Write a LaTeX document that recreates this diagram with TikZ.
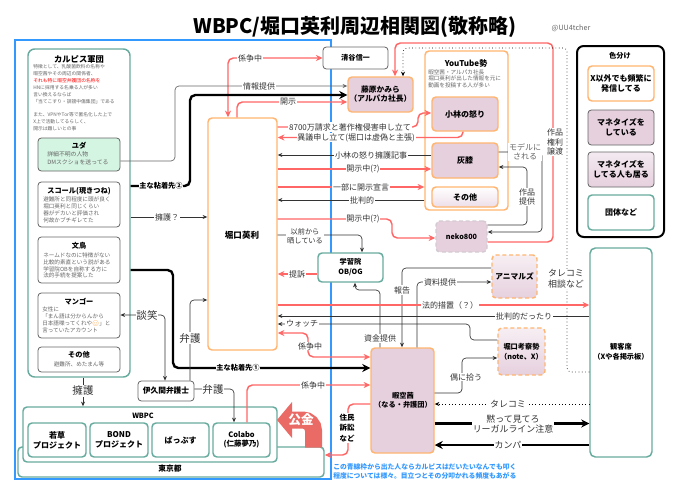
\documentclass[tikz,border=0pt]{standalone}
\usepackage{fontspec}
\setmainfont{Noto Sans CJK JP}
\newfontfamily\emj{Noto Emoji}
\usetikzlibrary{arrows.meta,fit,calc}
\definecolor{tealc}{HTML}{67AB9F}
\definecolor{orgc}{HTML}{FFB570}
\definecolor{pinkc}{HTML}{E6D0DE}
\definecolor{redc}{HTML}{FF6666}
\definecolor{bluec}{HTML}{3399FF}
\definecolor{grayc}{HTML}{666666}
\definecolor{txtc}{HTML}{333333}
\definecolor{mintc}{HTML}{D5F5E3}
\definecolor{kokin}{HTML}{EA6B66}
\newcommand\fsA{\fontsize{3.6pt}{5.3pt}\selectfont}
\newcommand\fsB{\fontsize{4.2pt}{5.1pt}\selectfont}
\newcommand\fsC{\fontsize{5.4pt}{6.5pt}\selectfont}
\newcommand\fsD{\fontsize{6pt}{7pt}\selectfont}
\newcommand\fsE{\fontsize{6.7pt}{8pt}\selectfont}
\newcommand\fsF{\fontsize{7.9pt}{9pt}\selectfont}
\newcommand\mkbox[6]{\node[#6,fit={(#2,#3) (#4,#5)},inner sep=0pt] (#1) {};}
\tikzset{
  tbox/.style={draw=tealc,line width=1.1pt,rounded corners=3pt,fill=white},
  gbox/.style={draw=grayc,line width=0.6pt,rounded corners=2.5pt,fill=white},
  obox/.style={draw=orgc,line width=1.1pt,rounded corners=3pt,fill=white},
  pbox/.style={draw=orgc,line width=1.1pt,rounded corners=3pt,fill=pinkc},
  dbox/.style={draw=orgc,line width=1.1pt,dash pattern=on 3pt off 2pt,rounded corners=3pt,top color=pinkc!35,bottom color=pinkc},
  ttl/.style={font=\fsC\bfseries,inner sep=0pt,align=center},
  sm/.style={font=\fsB,text=grayc,inner sep=0pt,align=left},
  lbl/.style={font=\fsD,text=txtc,fill=white,inner sep=0.6pt},
  redln/.style={draw=redc,line width=1.1pt,rounded corners=4pt,-{Stealth[length=5pt,width=4.5pt]}},
  redboth/.style={draw=redc,line width=1.1pt,rounded corners=4pt,{Stealth[length=5pt,width=4.5pt]}-{Stealth[length=5pt,width=4.5pt]}},
  gln/.style={draw=txtc,line width=0.5pt,rounded corners=3pt,-{Stealth[length=3.5pt,width=3pt]}},
  glnboth/.style={draw=txtc,line width=0.5pt,rounded corners=3pt,{Stealth[length=3.5pt,width=3pt]}-{Stealth[length=3.5pt,width=3pt]}},
  blk/.style={draw=black,line width=1.8pt,rounded corners=4pt,-{Stealth[length=6pt,width=6pt]}},
}
\begin{document}
\begin{tikzpicture}[x=0.75pt,y=-0.75pt]
\useasboundingbox (0,0) rectangle (680,496);
\fill[white] (0,0) rectangle (680,496);
% title
\node[font=\fontsize{15pt}{17pt}\selectfont\bfseries,inner sep=0pt] (title) at (355,27) {WBPC/堀口英利周辺相関図(敬称略)};
\node[font=\fsC,text=grayc,inner sep=0pt] (handle) at (571,28) {@UU4tcher};
% blue frame
\mkbox{frame}{15}{40}{331}{479}{draw=bluec,line width=1.2pt}
% Calpis group
\mkbox{karu}{28}{49}{130}{377}{tbox,rounded corners=5pt}
\node[ttl,font=\fontsize{6.2pt}{7pt}\selectfont\bfseries] at (79,59) {カルピス軍団};
\node[sm,font=\fsA,anchor=west] at (33,84.2) {特徴として、乳酸菌飲料の名称や\\暇空茜やその周辺の関係者、\\\textcolor{red}{それも特に暇空弁護団の名称を}\\HNに採用する名乗る人が多い\\言い換えるならば\\「当てこすり・誹謗中傷集団」である};
\node[sm,font=\fsA,anchor=west] at (33,121.4) {また、VPNやTor等で匿名化した上で\\X上で活動してるらしく、\\開示は難しいとの事};
\mkbox{yuda}{38}{138}{120}{171}{gbox,fill=mintc}
\node[ttl] at (79,146) {ユダ};
\node[sm,font=\fontsize{4.4pt}{5.8pt}\selectfont,anchor=west] at (47,158.3) {詳細不明の人物\\DMスクショを送ってる};
\mkbox{squall}{38}{182}{120}{227}{gbox}
\node[ttl] at (79,191) {スコール(現きつね)};
\node[sm,anchor=west] at (43,210) {避難所と同程度に頭が良く\\堀口英利と同じくらい\\器がデカいと評価され\\何故かブチギレてた};
\mkbox{bunch}{38}{237}{120}{283}{gbox}
\node[ttl] at (79,245.5) {文鳥};
\node[sm,anchor=west] at (43,265.5) {ネームドなのに特徴がない\\比較的素直という説がある\\学習院OBを自称する方に\\法的手続を提案した};
\mkbox{mango}{38}{293}{120}{338}{gbox}
\node[ttl] at (79,302) {マンゴー};
\node[sm,anchor=west] at (42,320) {女性に\\「まん語は分からんから\\日本語喋ってくれや{\emj\textcolor{orange}{😊}}」と\\言っていたアカウント};
\mkbox{sono1}{38}{347}{120}{372}{gbox}
\node[ttl] at (79,355) {その他};
\node[sm] at (79,364.5) {避難所、めたまん等};
% right side boxes
\mkbox{seiya}{323}{47}{388}{69}{gbox}
\node[ttl,font=\fsC\bfseries] at (seiya) {清谷信一};
\mkbox{fuji}{348}{77}{413}{112}{pbox}
\node[ttl,font=\fontsize{5.8pt}{6.8pt}\selectfont\bfseries] at (fuji) {藤原かみら\\（アルパカ社長）};
\mkbox{yt}{425}{51}{508}{210}{obox}
\node[ttl,font=\fsD\bfseries] at (466,63) {YouTube勢};
\node[sm,font=\fontsize{4.2pt}{4.9pt}\selectfont,anchor=west] at (428,78.5) {暇空茜・アルパカ社長\\堀口英利が出した情報を元に\\動画を投稿する人が多い};
\mkbox{koba}{432}{97}{498}{131}{pbox}
\node[ttl,font=\fsD\bfseries] at (koba) {小林の怒り};
\mkbox{hai}{432}{143}{498}{178}{pbox}
\node[ttl,font=\fsD\bfseries] at (hai) {灰膝};
\mkbox{sono2}{432}{187}{498}{207}{obox,top color=white,bottom color=pinkc!70}
\node[ttl,font=\fsD\bfseries] at (sono2) {その他};
\mkbox{neko}{436}{221}{487}{252}{dbox,draw=pinkc!80!black!60,top color=pinkc,bottom color=pinkc}
\node[ttl,font=\fsC\bfseries] at (neko) {neko800};
\mkbox{hori}{208}{118}{277}{350}{obox}
\node[ttl,font=\fontsize{6.4pt}{7pt}\selectfont\bfseries] at (242,235) {堀口英利};
\mkbox{gaku}{318}{253}{383}{282}{tbox}
\node[ttl,font=\fontsize{5.4pt}{7.5pt}\selectfont\bfseries] at (gaku) {学習院\\OB/OG};
\mkbox{ani}{492}{255}{537}{298}{dbox}
\node[ttl,font=\fontsize{5.8pt}{7pt}\selectfont\bfseries] at (ani) {アニマルズ};
\mkbox{kous}{498}{328}{545}{375}{dbox}
\node[ttl,font=\fontsize{5.4pt}{7.5pt}\selectfont\bfseries] at (kous) {堀口考察勢\\（note、X）};
\mkbox{kank}{590}{248}{652}{457}{tbox,rounded corners=4pt}
\node[ttl,font=\fontsize{5.4pt}{7.5pt}\selectfont\bfseries] at (621,352) {観客席\\（Xや各掲示板）};
\mkbox{hima}{371}{348}{434}{453}{pbox}
\node[ttl,font=\fontsize{5.4pt}{7pt}\selectfont\bfseries] at (403,400) {暇空茜\\（なる・弁護団）};
\mkbox{ikuma}{138}{381}{194}{401}{gbox}
\node[ttl,font=\fontsize{5.8pt}{7pt}\selectfont\bfseries] at (ikuma) {伊久間弁護士};
% Tokyo / WBPC
\mkbox{tokyo}{18}{447}{324}{477}{tbox}
\node[ttl,font=\fontsize{5.8pt}{7pt}\selectfont\bfseries] at (170,469) {東京都};
\mkbox{wbpc}{23}{407}{277}{462}{tbox}
\node[ttl,font=\fontsize{5.4pt}{7pt}\selectfont\bfseries] at (143,415.5) {WBPC};
\mkbox{waka}{28}{423}{86}{457}{tbox}
\node[ttl,font=\fontsize{6pt}{7.5pt}\selectfont\bfseries] at (waka) {若草\\プロジェクト};
\mkbox{bond}{90}{423}{148}{457}{tbox}
\node[ttl,font=\fontsize{6pt}{7.5pt}\selectfont\bfseries] at (bond) {BOND\\プロジェクト};
\mkbox{pap}{152}{423}{209}{457}{tbox}
\node[ttl,font=\fontsize{6pt}{7.5pt}\selectfont\bfseries] at (pap) {ぱっぷす};
\mkbox{colabo}{213}{423}{270}{457}{tbox}
\node[ttl,font=\fontsize{5.6pt}{7pt}\selectfont\bfseries] at (colabo) {Colabo\\(仁藤夢乃)};
% legend
\mkbox{legend}{577}{46}{664}{237}{draw=black,line width=1.5pt,rounded corners=5pt,fill=white}
\node[ttl,font=\fsC\bfseries] at (620,56) {色分け};
\mkbox{lgA}{588}{66}{654}{101}{obox}
\node[ttl,font=\fontsize{6pt}{7.5pt}\selectfont\bfseries] at (lgA) {X以外でも頻繁に\\発信してる};
\mkbox{lgB}{588}{110}{654}{145}{gbox,fill=pinkc}
\node[ttl,font=\fontsize{6pt}{7.5pt}\selectfont\bfseries] at (lgB) {マネタイズを\\している};
\mkbox{lgC}{588}{152}{654}{187}{gbox,top color=pinkc!45,bottom color=pinkc}
\node[ttl,font=\fontsize{6pt}{7.5pt}\selectfont\bfseries] at (lgC) {マネタイズを\\してる人も居る};
\mkbox{lgD}{588}{195}{654}{230}{tbox}
\node[ttl,font=\fontsize{6pt}{7.5pt}\selectfont\bfseries] at (lgD) {団体など};
% Kokin arrow
\draw[kokin,line width=12.75pt,rounded corners=8pt] (313.5,447.5) -- (313.5,420) -- (290,420);
\fill[kokin] (292,402) -- (277,420) -- (292,438) -- cycle;
\node[font=\fontsize{9.5pt}{10pt}\selectfont\bfseries,text=white,inner sep=0pt] (kokintxt) at (301,420) {公金};
% connectors
\draw[redboth] (hori.north -| 228,0) -- (228,58) -- (seiya.west |- 0,58);
\node[lbl] at (250,58) {係争中};
\draw[gln,draw=grayc] (yuda.east |- 0,161) -- (175,161) -- (175,86) -- (fuji.west |- 0,86);
\node[lbl] at (259,86) {情報提供};
\draw[blk] (karu.east |- 0,186) -- (190,186) -- (190,95) -- (fuji.west |- 0,95);
\node[lbl,font=\fsC\bfseries,text=black] at (161,186) {主な粘着先②};
\draw[redln] (hori.north -| 237,0) -- (237,102) -- (fuji.west |- 0,102);
\node[lbl] at (288,102) {開示};
\draw[redln] (neko.east |- 0,242) -- (553,242) -- (553,43) -- (395,43) -- (fuji.north -| 395,0);
\node[lbl,align=center,font=\fontsize{6pt}{7.1pt}\selectfont] at (555,142) {作品\\権利\\譲渡};
\draw[gln,dotted,draw=black] (kank.west |- 0,372) -- (567,372) -- (567,48) -- (403,48) -- (fuji.north -| 403,0);
\node[lbl,font=\fsE,align=center] at (566,279) {タレコミ\\相談など};
\draw[redln] (hori.east |- 0,127) -- (418,127) -- (418,113) -- (koba.west |- 0,113);
\node[lbl] at (350,127) {8700万請求と著作権侵害申し立て};
\draw[redln] (koba.south -| 463,0) -- (463,137.5) -- (hori.east |- 0,137.5);
\node[lbl] at (356,137.5) {異議申し立て(堀口は虚偽と主張)};
\draw[gln] (hai.west |- 0,155) -- (hori.east |- 0,155);
\node[lbl] at (371,155) {小林の怒り擁護記事};
\draw[redln] (hori.east |- 0,169) -- (hai.west |- 0,169);
\node[lbl] at (363,169) {開示中(?)};
\draw[redln] (hori.east |- 0,187) -- (yt.west |- 0,187);
\node[lbl] at (361,187) {一部に開示宣言};
\draw[gln] (yt.west |- 0,200) -- (hori.east |- 0,200);
\node[lbl] at (362,200) {批判的};
\draw[redln] (hori.east |- 0,219) -- (392,219) -- (392,238) -- (neko.west |- 0,238);
\node[lbl] at (363,219) {開示中(?)};
\draw[gln] (hori.east |- 0,235) -- (362,235) -- (gaku.north -| 362,0);
\node[lbl,align=center,font=\fsC] at (305,236) {以前から\\晒している};
\draw[redln] (gaku.west |- 0,274) -- (hori.east |- 0,274);
\node[lbl] at (297,274) {提訴};
\draw[gln] (hima.north -| 380,0) -- (380,290) -- (355,290) -- (gaku.south -| 355,0);
\node[lbl] at (380,338) {資金提供};
\draw[gln] (ani.west |- 0,268) -- (402,268) -- (hima.north -| 402,0);
\node[lbl] at (402,290) {報告};
\draw[gln] (hima.north -| 417,0) -- (417,282) -- (ani.west |- 0,282);
\node[lbl] at (440,282) {資料提供};
\draw[redln] (hori.east |- 0,305) -- (kank.west |- 0,305);
\node[lbl] at (450,305) {法的措置（？）};
\draw[gln] (kank.west |- 0,316) -- (hori.east |- 0,316);
\node[lbl] at (524,316) {批判的だったり};
\draw[gln] (kous.west |- 0,340) -- (470,340) -- (470,324) -- (hori.east |- 0,324);
\node[lbl] at (302,324) {ウォッチ};
\draw[redboth] (hori.east |- 0,333) -- (308,333) -- (308,357) -- (hima.west |- 0,357);
\node[lbl] at (310,346) {係争中};
\draw[blk] (karu.east |- 0,270) -- (173,270) -- (173,368) -- (hima.west |- 0,368);
\node[lbl,font=\fsC\bfseries,text=black] at (238,368) {主な粘着先①};
\draw[gln] (karu.east |- 0,217) -- (hori.west |- 0,217);
\node[lbl] at (167,217) {擁護？};
\draw[glnboth] (mango.east |- 0,315) -- (165,315) -- (ikuma.north -| 165,0);
\node[lbl,font=\fsF] at (147,315) {談笑};
\draw[gln] (ikuma.north -| 190,0) -- (190,300) -- (hori.west |- 0,300);
\node[lbl,font=\fsF] at (190,338) {弁護};
\draw[gln] (ikuma.east |- 0,389) -- (234,389) -- (colabo.north -| 234,0);
\node[lbl,font=\fsF] at (213,389) {弁護};
\draw[gln] (karu.south -| 83,0) -- (wbpc.north -| 83,0);
\node[lbl,font=\fsF] at (83,391) {擁護};
\draw[redln] (colabo.north -| 247,0) -- (247,385) -- (hima.west |- 0,385);
\node[lbl] at (313,385) {係争中};
\draw[redln] (hima.west |- 0,404) -- (348,404) -- (348,455) -- (tokyo.east |- 0,455);
\node[lbl,align=center,font=\fontsize{5.6pt}{7.9pt}\selectfont\bfseries,text=black] at (347,428) {住民\\訴訟\\など};
\draw[gln,dotted,draw=black] (kank.west |- 0,404) -- (hima.east |- 0,404);
\node[lbl,font=\fsE] at (508,404) {タレコミ};
\draw[blk] (hima.east |- 0,423.5) -- (kank.west |- 0,423.5);
\node[lbl,font=\fsE,align=center] at (513,424) {黙って見てろ\\リーガルライン注意};
\draw[blk] (kank.west |- 0,445) -- (hima.east |- 0,445);
\node[lbl,font=\fsE] at (508,445) {カンパ};
\draw[gln] (hima.east |- 0,393) -- (462,393) -- (462,358) -- (kous.west |- 0,358);
\node[lbl] at (466,377) {偶に拾う};
\draw[gln] (neko.east |- 0,225) -- (527,225) -- (527,167) -- (hai.east |- 0,167);
\node[lbl,align=center,font=\fsD] at (527,197) {作品\\提供};
\draw[gln] (hai.east |- 0,152) -- (542,152) -- (542,232) -- (neko.east |- 0,232);
\node[lbl,align=center,font=\fsD,text=grayc] at (525,152) {モデルに\\される};
% caption
\node[font=\fontsize{5.1pt}{6.4pt}\selectfont\bfseries,text=bluec,anchor=west,align=left,inner sep=0pt] (caption) at (333,471.5) {この青線枠から出た人ならカルピスはだいたいなんでも叩く\\程度については様々。目立つとその分叩かれる頻度もあがる};
\end{tikzpicture}
\end{document}
